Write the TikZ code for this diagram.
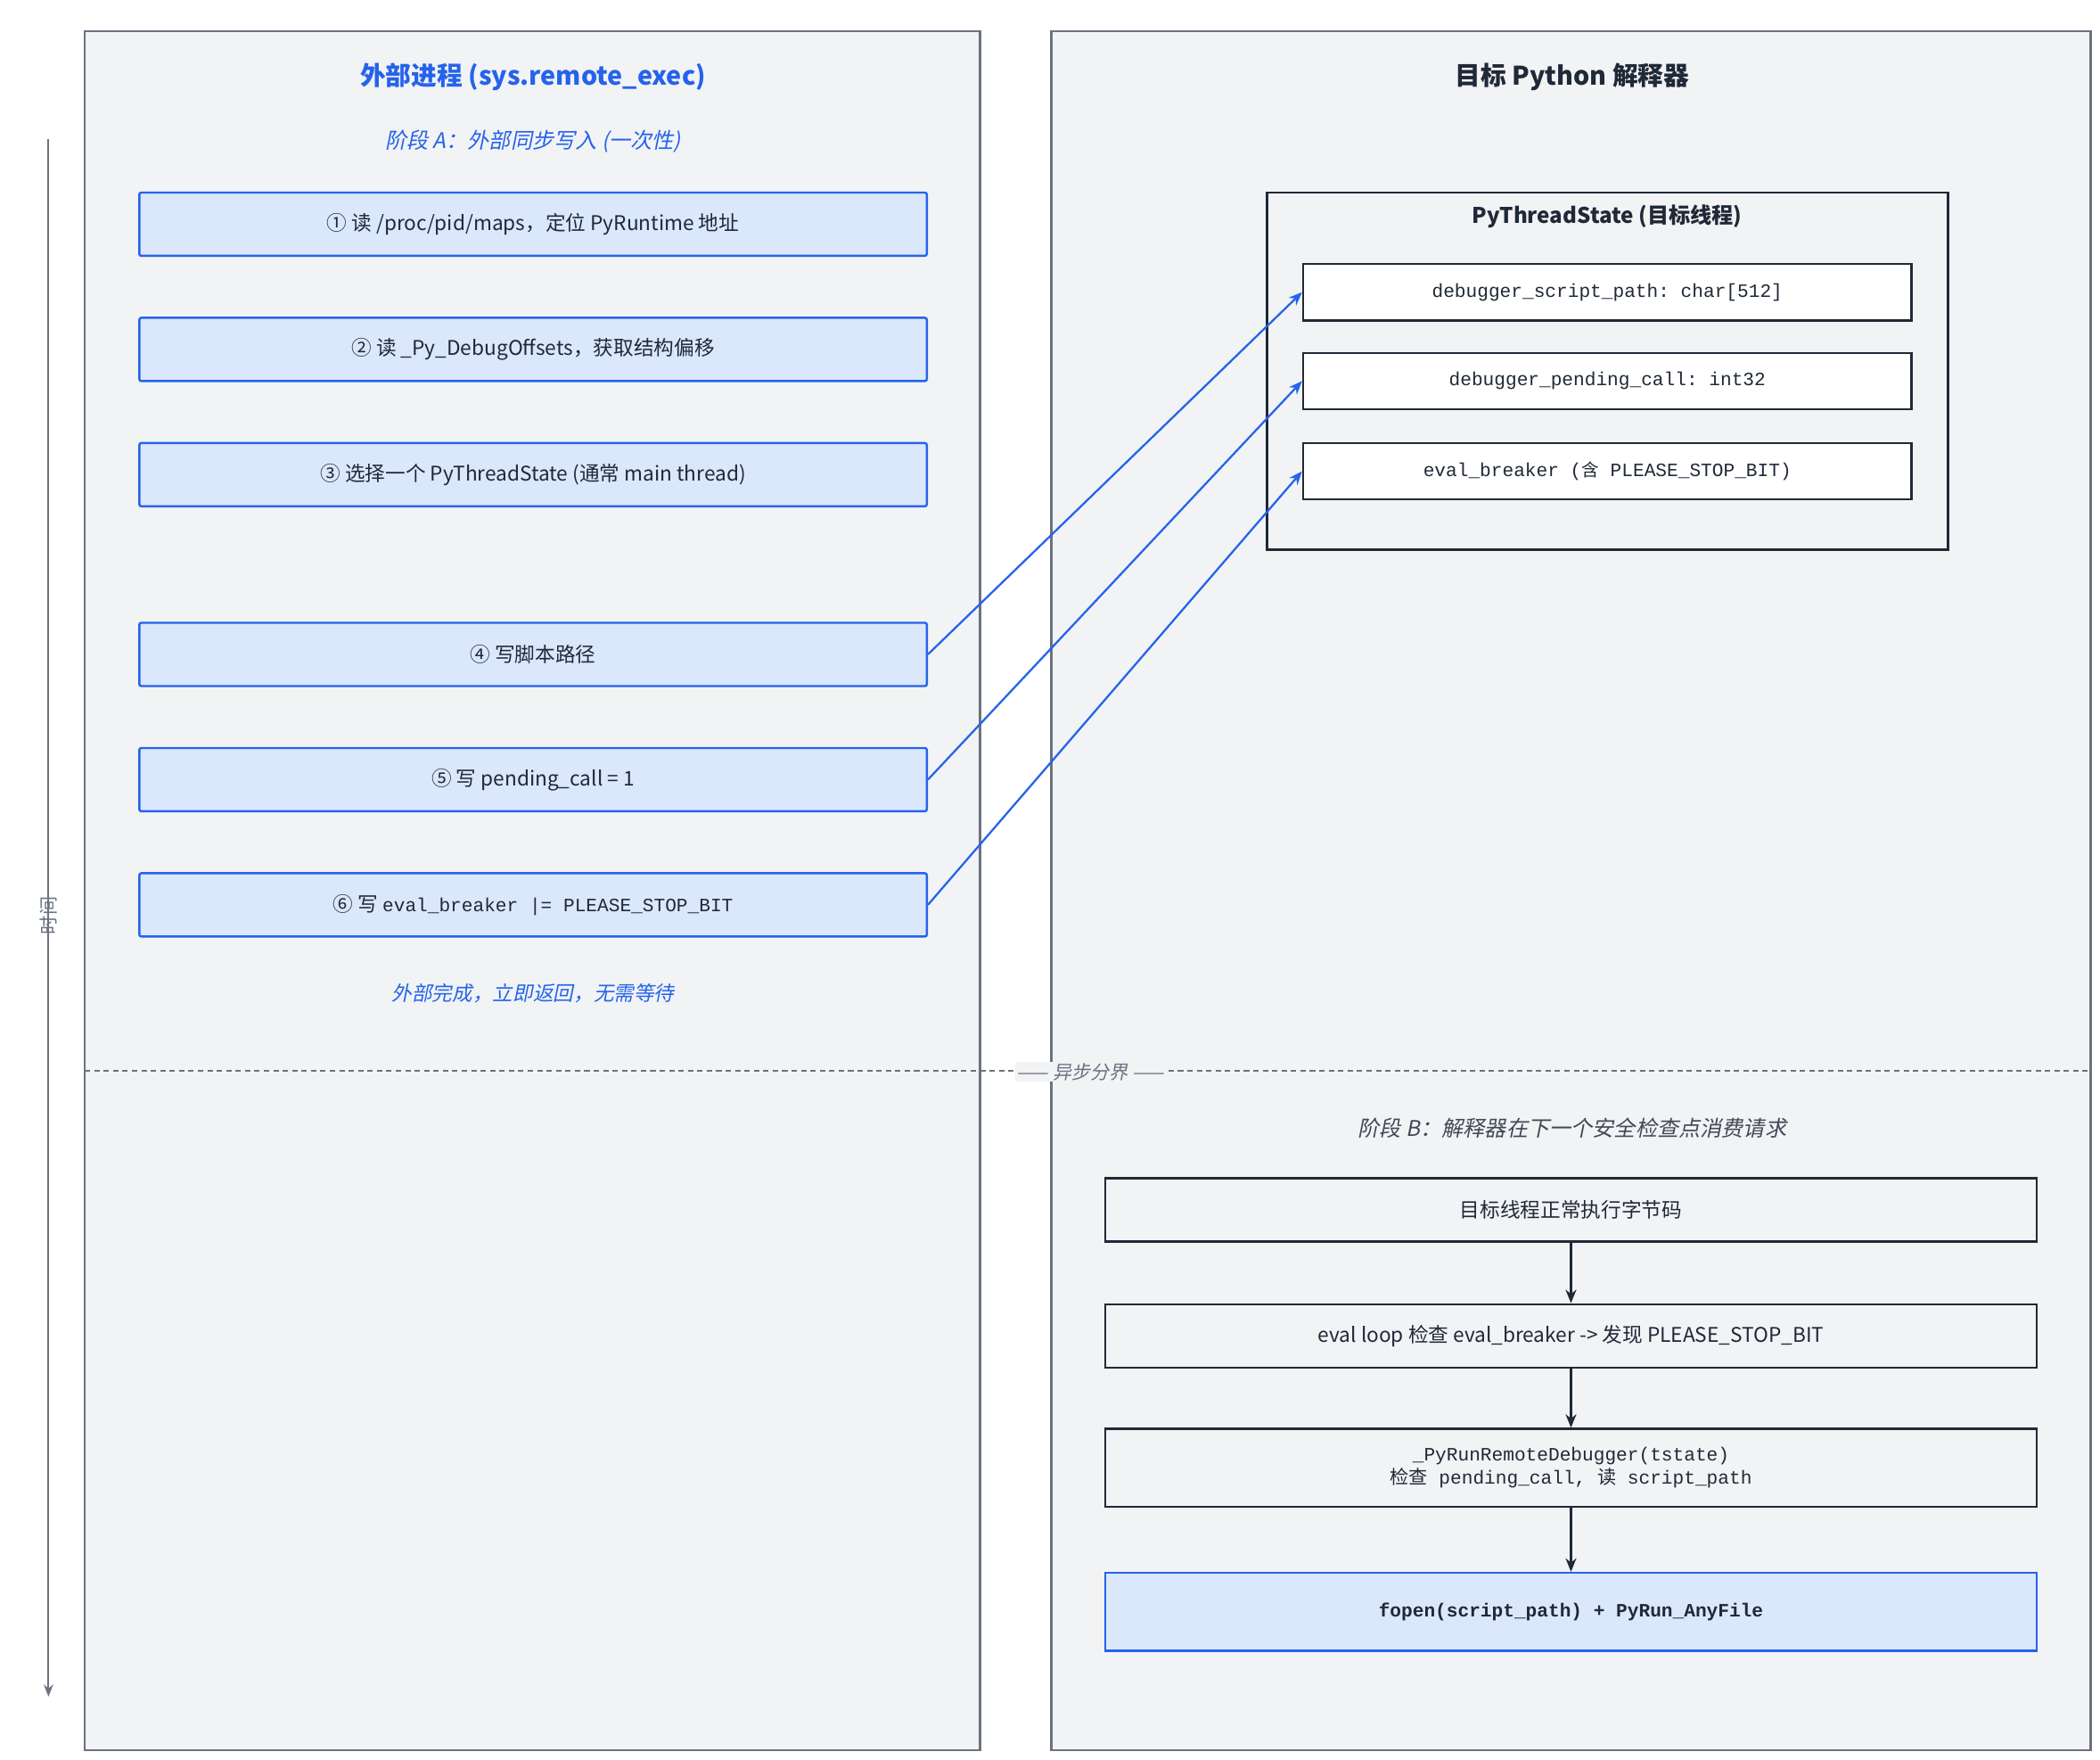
\documentclass[tikz,border=0pt]{standalone}
\usepackage{fontspec}
\setmainfont{Noto Sans CJK SC}
\setmonofont{Liberation Mono}
\newfontfamily\cjk{Noto Sans CJK SC}
\newfontfamily\cjkit[FakeSlant=0.2]{Noto Sans CJK SC}
\usetikzlibrary{arrows.meta}
\definecolor{panelbg}{HTML}{F2F3F5}
\definecolor{panelbd}{HTML}{6B7280}
\definecolor{bluefill}{HTML}{DBE8FC}
\definecolor{bluebd}{HTML}{2563EB}
\definecolor{dark}{HTML}{1F2937}
\begin{document}
\begin{tikzpicture}[x=1pt,y=-1pt,
  panel/.style={draw=panelbd,line width=1.5pt,fill=panelbg},
  abox/.style={draw=bluebd,line width=1.6pt,fill=bluefill,rounded corners=1.5pt,minimum width=585pt,minimum height=47pt,font=\fontsize{15}{18}\selectfont,text=dark},
  field/.style={draw=dark,line width=1.5pt,fill=white,minimum width=452pt,minimum height=42pt,font=\ttfamily\fontsize{14}{17}\selectfont,text=dark},
  bbox/.style={draw=dark,line width=1.5pt,fill=panelbg,minimum width=692pt,font=\fontsize{15}{18}\selectfont,text=dark,align=center},
  blink/.style={draw=bluebd,line width=1.5pt,-{Stealth[length=10pt,width=8pt]}},
  dlink/.style={draw=dark,line width=1.6pt,-{Stealth[length=10pt,width=8pt]}}]
\useasboundingbox[fill=white] (0,0) rectangle (1560,1307);
\draw[panel] (63,23) rectangle (728,1300);
\draw[panel] (781,23) rectangle (1553,1300);
\draw[panelbd,line width=1.5pt,dash pattern=on 4pt off 3pt] (63,795) -- (1553,795);
\node[font=\cjkit\fontsize{14}{16}\selectfont,text=panelbd,fill=panelbg,inner sep=1pt] (sep) at (810,796) {—— 异步分界 ——};
\coordinate (t0) at (36,103); \coordinate (t1) at (36,1260);
\draw[panelbd,line width=1.2pt,-{Stealth[length=9pt,width=7pt]}] (t0) -- (t1);
\node[rotate=90,font=\fontsize{14}{16}\selectfont,text=panelbd] (time) at (36,680) {时间};
\node[font=\bfseries\fontsize{19}{22}\selectfont,text=bluebd] (ta) at (396,57) {外部进程 (sys.remote\_exec)};
\node[font=\cjkit\fontsize{16}{19}\selectfont,text=bluebd] (pa) at (396,105) {阶段 A：外部同步写入 (一次性)};
\node[abox] (a1) at (396,166.5) {① 读 /proc/pid/maps，定位 PyRuntime 地址};
\node[abox] (a2) at (396,259.5) {② 读 \_Py\_DebugOffsets，获取结构偏移};
\node[abox] (a3) at (396,352.5) {③ 选择一个 PyThreadState (通常 main thread)};
\node[abox] (a4) at (396,486) {④ 写脚本路径};
\node[abox] (a5) at (396,579) {⑤ 写 pending\_call = 1};
\node[abox] (a6) at (396,672) {⑥ 写 {\ttfamily\fontsize{14}{17}\selectfont eval\_breaker |= PLEASE\_STOP\_BIT}};
\node[font=\cjkit\fontsize{15}{18}\selectfont,text=bluebd] (done) at (396,738) {外部完成，立即返回，无需等待};
\node[font=\bfseries\fontsize{19}{22}\selectfont,text=dark] (tb) at (1168,57) {目标 Python 解释器};
\draw[dark,line width=1.8pt,fill=panelbg] (941,143) rectangle (1447,408);
\node[font=\bfseries\fontsize{16}{19}\selectfont,text=dark] (pts) at (1194,161) {PyThreadState (目标线程)};
\node[field] (f1) at (1194,217) {debugger\_script\_path: char[512]};
\node[field] (f2) at (1194,283) {debugger\_pending\_call: int32};
\node[field] (f3) at (1194,350) {eval\_breaker ({\cjk\fontsize{13}{16}\selectfont 含} PLEASE\_STOP\_BIT)};
\draw[blink] (a4.east) -- (f1.west);
\draw[blink] (a5.east) -- (f2.west);
\draw[blink] (a6.east) -- (f3.west);
\node[font=\cjkit\fontsize{16}{19}\selectfont,text=dark!85] (pb) at (1168,838) {阶段 B：解释器在下一个安全检查点消费请求};
\node[bbox,minimum height=47pt] (b1) at (1167,898.5) {目标线程正常执行字节码};
\node[bbox,minimum height=47pt] (b2) at (1167,992) {eval loop 检查 eval\_breaker -> 发现 PLEASE\_STOP\_BIT};
\node[bbox,minimum height=58pt,font=\ttfamily\fontsize{14}{17}\selectfont] (b3) at (1167,1090) {\_PyRunRemoteDebugger(tstate)\\{\cjk 检查} pending\_call, {\cjk 读} script\_path};
\node[bbox,minimum height=58pt,draw=bluebd,fill=bluefill,font=\ttfamily\bfseries\fontsize{14}{17}\selectfont] (b4) at (1167,1197) {fopen(script\_path) + PyRun\_AnyFile};
\draw[dlink] (b1) -- (b2);
\draw[dlink] (b2) -- (b3);
\draw[dlink] (b3) -- (b4);
\end{tikzpicture}
\end{document}
